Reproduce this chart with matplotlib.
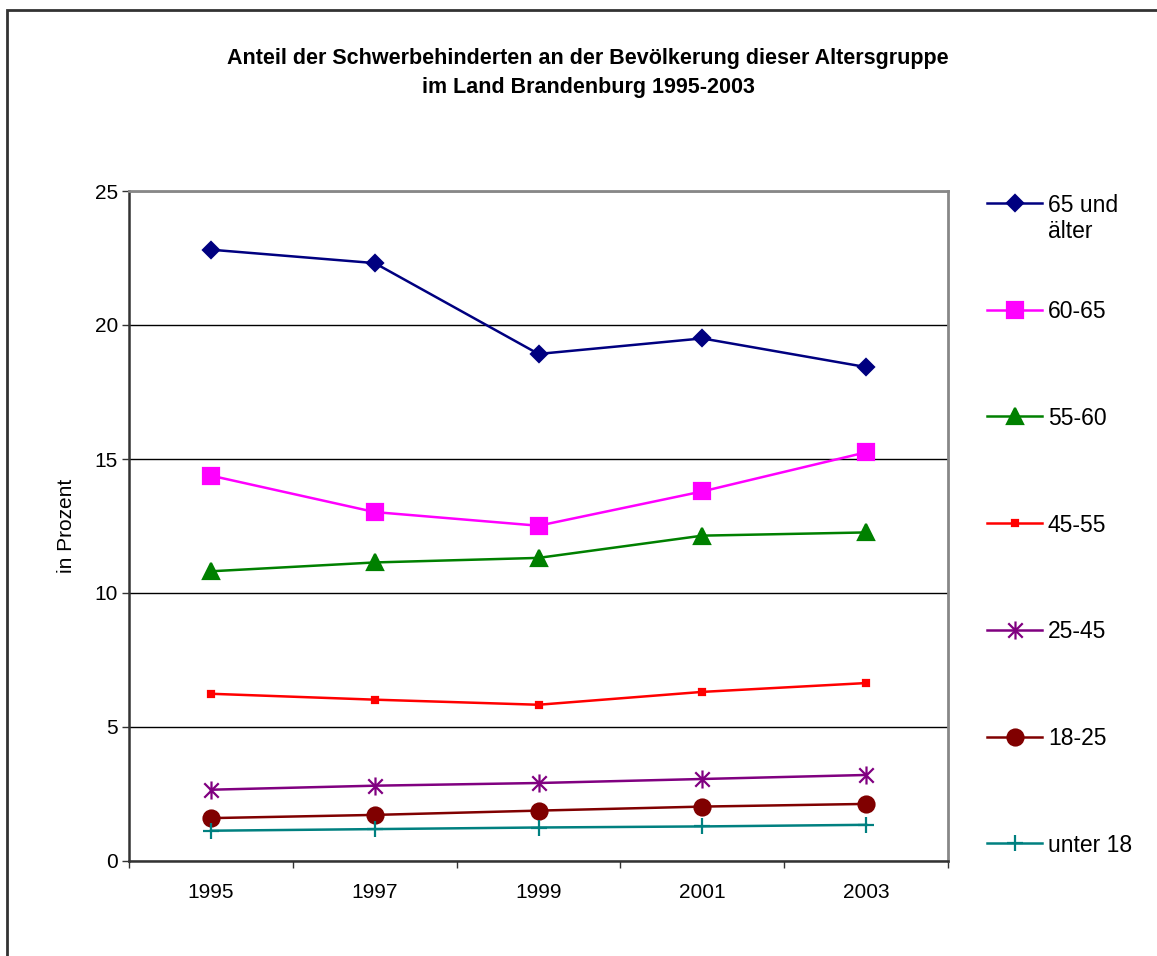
import matplotlib
matplotlib.use("Agg")
import matplotlib.pyplot as plt
from matplotlib.lines import Line2D
from matplotlib.patches import Rectangle
from matplotlib.path import Path

plt.rcParams['font.family'] = ['Liberation Sans', 'DejaVu Sans']

years = ['1995', '1997', '1999', '2001', '2003']
labels = ['65 und\nälter', '60-65', '55-60', '45-55', '25-45', '18-25', 'unter 18']
v65 = [22.81, 22.31, 18.92, 19.50, 18.43]
v60 = [14.38, 13.02, 12.51, 13.79, 15.25]
v55 = [10.81, 11.14, 11.31, 12.14, 12.26]
v45 = [6.24, 6.02, 5.83, 6.31, 6.64]
v25 = [2.66, 2.81, 2.91, 3.06, 3.21]
v18 = [1.60, 1.72, 1.88, 2.03, 2.13]
vu18 = [1.13, 1.19, 1.25, 1.29, 1.35]

# asterisk like excel: vertical bar plus an x
star = Path([(0, -1), (0, 1), (-0.8, -0.8), (0.8, 0.8), (-0.8, 0.8), (0.8, -0.8)],
            [Path.MOVETO, Path.LINETO, Path.MOVETO, Path.LINETO, Path.MOVETO, Path.LINETO])

series = [
    (v65, '#000080', 'D', 8),
    (v60, '#FF00FF', 's', 11),
    (v55, '#008000', '^', 11),
    (v45, '#FF0000', 's', 5),
    (v25, '#800080', star, 13),
    (v18, '#800000', 'o', 11.5),
    (vu18, '#008080', '+', 12),
]

fig = plt.figure(figsize=(11.57, 9.56), dpi=100)
ax = fig.add_axes([129/1157, 95/956, 819/1157, 670/956])

x = list(range(len(years)))
for (vals, col, mk, ms) in series:
    ax.plot(x, vals, color=col, marker=mk, markersize=ms, linewidth=1.8,
            markerfacecolor=col, markeredgecolor=col, markeredgewidth=1.6)

ax.set_xlim(-0.5, 4.5)
ax.set_ylim(0, 25)
ax.set_yticks([0, 5, 10, 15, 20, 25])
ax.tick_params(axis='y', labelsize=15, length=5, width=1, pad=3, color='#333333')
ax.set_xticks([-0.5, 0.5, 1.5, 2.5, 3.5, 4.5])
ax.set_xticklabels([])
ax.set_xticks(x, minor=True)
ax.set_xticklabels(years, minor=True)
ax.tick_params(axis='x', which='major', length=5, width=1, color='#333333')
ax.tick_params(axis='x', which='minor', length=0, labelsize=15, pad=16)
ax.grid(axis='y', color='black', linewidth=1)
ax.set_axisbelow(True)
ax.set_ylabel('in Prozent', fontsize=15, labelpad=13)

for s in ['top', 'right']:
    ax.spines[s].set_color('#888888')
    ax.spines[s].set_linewidth(2)
for s in ['left', 'bottom']:
    ax.spines[s].set_color('#333333')
    ax.spines[s].set_linewidth(1.8)

fig.text(588/1157, 1 - 73/956,
         'Anteil der Schwerbehinderten an der Bevölkerung dieser Altersgruppe\nim Land Brandenburg 1995-2003',
         ha='center', va='center', fontsize=15.5, fontweight='bold', linespacing=1.55)

# legend drawn as a column, handle aligned with first line of text
W, H = 1157, 956
for i, ((vals, col, mk, ms), lab) in enumerate(zip(series, labels)):
    yp = 203 + i * 106.7
    yf = 1 - yp / H
    ln = Line2D([987/W, 1015/W, 1042/W], [yf, yf, yf], color=col, linewidth=1.8,
                marker=mk, markersize=ms, markevery=[1],
                markerfacecolor=col, markeredgecolor=col, markeredgewidth=1.6,
                transform=fig.transFigure)
    fig.add_artist(ln)
    for j, part in enumerate(lab.split('\n')):
        fig.text(1048/W, 1 - (yp + 8.5 + j * 26) / H, part, ha='left', va='baseline',
                 fontsize=16.5)

fig.add_artist(Rectangle((7/W, -0.1), 1.2, 1.1 - 10/H, transform=fig.transFigure,
                         fill=False, edgecolor='#333333', linewidth=2))

fig.savefig('out.png', dpi=100)
